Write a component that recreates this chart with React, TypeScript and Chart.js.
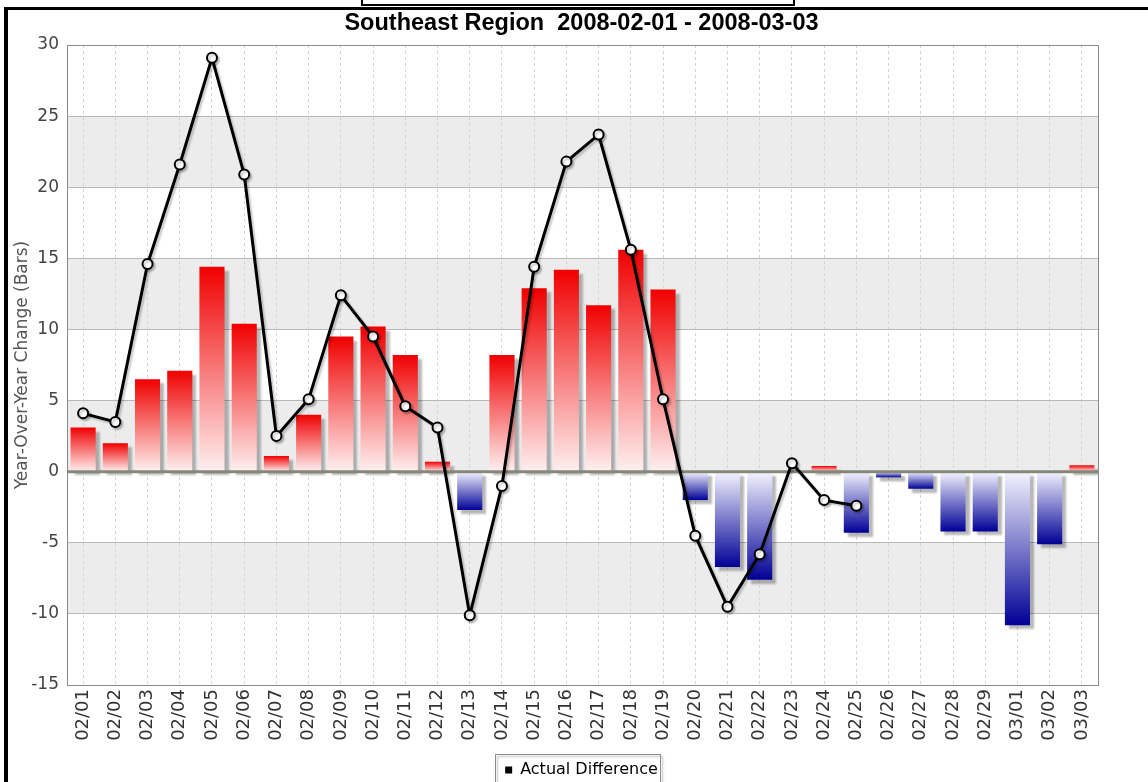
import React, { useEffect, useRef } from 'react';
import { Chart, registerables } from 'chart.js';

Chart.register(...registerables);

const categories = [
  '02/01', '02/02', '02/03', '02/04', '02/05', '02/06', '02/07', '02/08', '02/09', '02/10',
  '02/11', '02/12', '02/13', '02/14', '02/15', '02/16', '02/17', '02/18', '02/19', '02/20',
  '02/21', '02/22', '02/23', '02/24', '02/25', '02/26', '02/27', '02/28', '02/29', '03/01',
  '03/02', '03/03',
];

const barValues: (number | null)[] = [
  3.1, 2.0, 6.5, 7.1, 14.4, 10.4, 1.1, 4.0, 9.5, 10.2,
  8.2, 0.7, -2.7, 8.2, 12.9, 14.2, 11.7, 15.6, 12.8, -2.0,
  -6.7, -7.6, null, 0.4, -4.3, -0.4, -1.2, -4.2, -4.2, -10.8,
  -5.1, 0.45,
];

const lineValues: (number | null)[] = [
  4.1, 3.5, 14.6, 21.6, 29.1, 20.9, 2.5, 5.1, 12.4, 9.5,
  4.6, 3.1, -10.1, -1.0, 14.4, 21.8, 23.7, 15.6, 5.1, -4.5,
  -9.5, -5.8, 0.6, -2.0, -2.4, null, null, null, null, null,
  null, null,
];

const yTicks = { min: -15, max: 30, step: 5 };
const greyBands: [number, number][] = [[20, 25], [10, 15], [0, 5], [-10, -5]];

const titleText = 'Southeast Region  2008-02-01 - 2008-03-03';
const yAxisTitle = 'Year-Over-Year Change (Bars)';
const legendText = 'Actual Difference';

function barFill(c: any) {
  if (c.type !== 'data') return '#f00000';
  const chart = c.chart;
  const y = chart.scales && chart.scales.y;
  const v = c.raw;
  if (!chart.chartArea || !y || v == null) return '#f00000';
  const py = y.getPixelForValue(v);
  const p0 = y.getPixelForValue(0);
  if (Math.abs(py - p0) < 0.5) return v >= 0 ? '#f00000' : '#000096';
  const g = chart.ctx.createLinearGradient(0, p0, 0, py);
  if (v >= 0) {
    g.addColorStop(0, '#fff0f0');
    g.addColorStop(1, '#f00000');
  } else {
    g.addColorStop(0, '#f4f4ff');
    g.addColorStop(1, '#000096');
  }
  return g;
}

const bandsPlugin = {
  id: 'bands',
  beforeDraw(chart: any) {
    const { ctx, chartArea, scales } = chart;
    const y = scales.y;
    ctx.save();
    ctx.fillStyle = '#ececec';
    greyBands.forEach(([a, b]) => {
      const t = y.getPixelForValue(b);
      const bt = y.getPixelForValue(a);
      ctx.fillRect(chartArea.left, t, chartArea.right - chartArea.left, bt - t);
    });
    ctx.restore();
  },
};

const shadowPlugin = {
  id: 'shadows',
  beforeDatasetDraw(chart: any, args: any) {
    const ctx = chart.ctx;
    ctx.save();
    if (args.meta.type === 'bar') {
      ctx.shadowColor = 'rgba(0,0,0,0.28)';
      ctx.shadowOffsetX = 4;
      ctx.shadowOffsetY = 4;
      ctx.shadowBlur = 2;
    } else {
      ctx.shadowColor = 'rgba(0,0,0,0.22)';
      ctx.shadowOffsetX = 2;
      ctx.shadowOffsetY = 2;
      ctx.shadowBlur = 2;
    }
  },
  afterDatasetDraw(chart: any, args: any) {
    const ctx = chart.ctx;
    ctx.restore();
    if (args.meta.type === 'bar') {
      const { chartArea, scales } = chart;
      const p0 = scales.y.getPixelForValue(0);
      ctx.save();
      ctx.strokeStyle = '#86867a';
      ctx.lineWidth = 3;
      ctx.beginPath();
      ctx.moveTo(chartArea.left, p0);
      ctx.lineTo(chartArea.right, p0);
      ctx.stroke();
      ctx.restore();
    }
  },
};

const framePlugin = {
  id: 'frames',
  afterDraw(chart: any) {
    const { ctx, chartArea } = chart;
    ctx.save();
    ctx.strokeStyle = '#8a8a8a';
    ctx.lineWidth = 1;
    ctx.strokeRect(
      Math.round(chartArea.left) + 0.5,
      Math.round(chartArea.top) + 0.5,
      Math.round(chartArea.right - chartArea.left),
      Math.round(chartArea.bottom - chartArea.top)
    );
    const lg = chart.legend;
    const hb = lg && lg.legendHitBoxes && lg.legendHitBoxes[0];
    if (hb) {
      ctx.shadowColor = 'rgba(0,0,0,0.3)';
      ctx.shadowOffsetX = 2;
      ctx.shadowOffsetY = 2;
      ctx.shadowBlur = 2;
      ctx.strokeStyle = '#8c8c8c';
      ctx.strokeRect(Math.round(hb.left - 10) + 0.5, Math.round(hb.top - 8) + 0.5, Math.round(hb.width + 12), 40);
    }
    ctx.restore();
  },
};

export default function App() {
  const ref = useRef<HTMLCanvasElement | null>(null);

  useEffect(() => {
    const canvas = ref.current;
    if (!canvas) return;
    const chart = new Chart(canvas, {
      type: 'bar',
      data: {
        labels: categories,
        datasets: [
          {
            type: 'line',
            label: legendText,
            data: lineValues,
            borderColor: '#000',
            backgroundColor: '#000',
            borderWidth: 3,
            pointRadius: 5,
            pointBackgroundColor: '#fff',
            pointBorderColor: '#000',
            pointBorderWidth: 2,
            tension: 0,
            order: 0,
            spanGaps: false,
          } as any,
          {
            type: 'bar',
            label: 'Bars',
            data: barValues,
            backgroundColor: barFill as any,
            borderWidth: 0,
            barPercentage: 0.78,
            categoryPercentage: 1,
            order: 1,
          } as any,
        ],
      },
      options: {
        responsive: false,
        animation: false,
        devicePixelRatio: 1,
        layout: { padding: { left: 15, right: 0, top: 0, bottom: 12 } },
        plugins: {
          title: {
            display: true,
            text: titleText,
            color: '#000',
            font: { family: 'Liberation Sans', size: 23.5, weight: 'bold' },
            padding: { top: 9, bottom: 7.8 },
          },
          legend: {
            position: 'bottom',
            labels: {
              usePointStyle: true,
              boxWidth: 7,
              boxHeight: 7,
              padding: 10,
              color: '#000',
              font: { family: 'DejaVu Sans', size: 16 },
              generateLabels: () => [
                {
                  text: legendText,
                  fillStyle: '#000',
                  strokeStyle: '#000',
                  lineWidth: 0,
                  pointStyle: 'rect',
                  hidden: false,
                  datasetIndex: 0,
                  fontColor: '#000',
                } as any,
              ],
            },
          },
          tooltip: { enabled: false },
        },
        scales: {
          x: {
            offset: true,
            grid: { offset: false, color: '#d4d4d4', lineWidth: 1, drawTicks: false },
            border: { display: false, dash: [3, 3] },
            ticks: {
              color: '#333',
              font: { family: 'DejaVu Sans', size: 18 },
              maxRotation: 90,
              minRotation: 90,
              padding: 4,
              autoSkip: false,
            },
            afterFit: (s: any) => {
              s.height = 67;
            },
          },
          y: {
            min: yTicks.min,
            max: yTicks.max,
            ticks: {
              stepSize: yTicks.step,
              color: '#444',
              font: { family: 'DejaVu Sans', size: 17 },
              padding: 8,
            },
            grid: { color: '#b8b8b8', lineWidth: 1, drawTicks: false },
            border: { display: false },
            title: {
              display: true,
              text: yAxisTitle,
              color: '#555',
              font: { family: 'DejaVu Sans', size: 17 },
              padding: { top: -3, bottom: 0 },
            },
            afterFit: (s: any) => {
              s.width = 52;
            },
          },
          y2: {
            position: 'right',
            display: true,
            min: yTicks.min,
            max: yTicks.max,
            ticks: { display: false },
            grid: { display: false, drawOnChartArea: false },
            border: { display: false },
            afterFit: (s: any) => {
              s.width = 50;
            },
          },
        },
      } as any,
      plugins: [bandsPlugin, shadowPlugin, framePlugin],
    });
    return () => chart.destroy();
  }, []);

  return (
    <div
      style={{
        position: 'fixed',
        left: 0,
        top: 0,
        width: 1148,
        height: 782,
        overflow: 'hidden',
        background: '#fff',
      }}
    >
      <div
        style={{
          position: 'absolute',
          left: 4,
          top: 7,
          width: 1170,
          height: 800,
          borderLeft: '4px solid #000',
          borderTop: '3px solid #000',
          boxSizing: 'border-box',
        }}
      />
      <div
        style={{
          position: 'absolute',
          left: 361,
          top: -4,
          width: 434,
          height: 10,
          border: '2px solid #000',
          background: '#fff',
          boxSizing: 'border-box',
        }}
      />
      <canvas
        ref={ref}
        width={1148}
        height={800}
        style={{ position: 'absolute', left: 0, top: 0, width: 1148, height: 800 }}
      />
    </div>
  );
}
